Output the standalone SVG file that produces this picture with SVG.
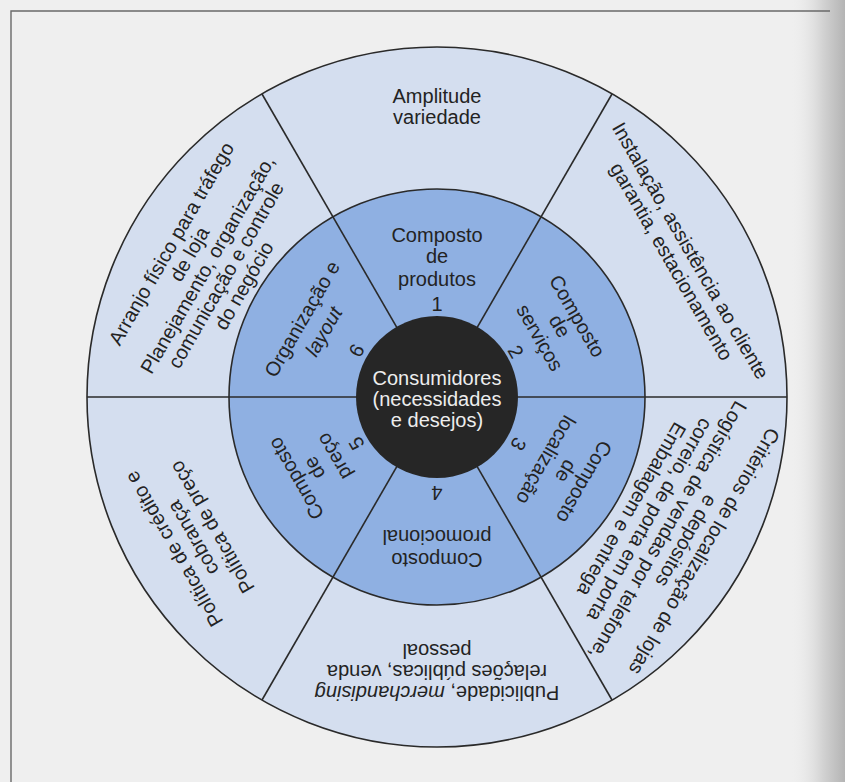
<svg xmlns="http://www.w3.org/2000/svg" width="845" height="782" viewBox="0 0 845 782">
<defs>
<style>
.t{font-family:"Liberation Sans",Arial,sans-serif;font-size:20px;fill:#232323;text-anchor:middle}
.c{font-family:"Liberation Sans",Arial,sans-serif;font-size:20px;fill:#ededed;text-anchor:middle}
.div{stroke:#2a2a2a;stroke-width:1.6;fill:none}
.ring{stroke:#2a2a2a;stroke-width:1.6}
.frame{stroke:#6a6a6a;stroke-width:1.4;fill:none}
</style>
<linearGradient id="edge" x1="0" y1="0" x2="1" y2="0">
<stop offset="0" stop-color="#efefef" stop-opacity="0"/>
<stop offset="0.6" stop-color="#d2d2d2"/>
<stop offset="1" stop-color="#b4b4b4"/>
</linearGradient>
</defs>
<rect width="845" height="782" fill="#efefef"/>
<rect x="790" y="0" width="55" height="782" fill="url(#edge)"/>
<path class="frame" d="M11 782 V11 H830"/>

<g id="outer-ring"><circle class="ring" cx="437" cy="397" r="350" fill="#d4deef"/></g>
<g id="middle-ring"><circle class="ring" cx="437" cy="397" r="208" fill="#8fb0e2"/></g>

<g id="connectors">
<line class="div" x1="87" y1="397" x2="787" y2="397"/>
<line class="div" x1="262" y1="94" x2="612" y2="700"/>
<line class="div" x1="612" y1="94" x2="262" y2="700"/>
</g>

<g id="center">
<circle cx="437" cy="397" r="81" fill="#262626"/>
<text class="c" x="437" y="385">Consumidores</text>
<text class="c" x="437" y="406">(necessidades</text>
<text class="c" x="437" y="427">e desejos)</text>
</g>

<g id="outer-amplitude">
<text class="t" x="437" y="103">Amplitude</text>
<text class="t" x="437" y="124">variedade</text>
</g>
<g id="outer-instalacao" transform="rotate(60 437 397)">
<text class="t" x="437" y="111">Instalação, assistência ao cliente</text>
<text class="t" x="437" y="133">garantia, estacionamento</text>
</g>
<g id="outer-localizacao" transform="rotate(120 437 397)">
<text class="t" x="437" y="95">Critérios de localização de lojas</text>
<text class="t" x="437" y="116">e depósitos</text>
<text class="t" x="437" y="137">Logística de vendas por telefone,</text>
<text class="t" x="437" y="158">correio, de porta em porta</text>
<text class="t" x="437" y="179">Embalagem e entrega</text>
</g>
<g id="outer-publicidade" transform="rotate(180 437 397)">
<text class="t" x="437" y="108">Publicidade, <tspan font-style="italic">merchandising</tspan></text>
<text class="t" x="437" y="129">relações públicas, venda</text>
<text class="t" x="437" y="150">pessoal</text>
</g>
<g id="outer-politica" transform="rotate(240 437 397)">
<text class="t" x="437" y="100">Política de crédito e</text>
<text class="t" x="437" y="122">cobrança</text>
<text class="t" x="437" y="144">Política de preço</text>
</g>
<g id="outer-arranjo" transform="rotate(300 437 397)">
<text class="t" x="437" y="97">Arranjo físico para tráfego</text>
<text class="t" x="437" y="118">de loja</text>
<text class="t" x="437" y="139">Planejamento, organização,</text>
<text class="t" x="437" y="160">comunicação e controle</text>
<text class="t" x="437" y="181">do negócio</text>
</g>

<g id="mid-produtos">
<text class="t" x="437" y="242">Composto</text>
<text class="t" x="437" y="263">de</text>
<text class="t" x="437" y="286">produtos</text>
<text class="t" x="437" y="311">1</text>
</g>
<g id="mid-servicos" transform="rotate(60 437 397)">
<text class="t" x="437" y="242">Composto</text>
<text class="t" x="437" y="262">de</text>
<text class="t" x="437" y="285">serviços</text>
<text class="t" x="437" y="313">2</text>
</g>
<g id="mid-localizacao" transform="rotate(120 437 397)">
<text class="t" x="437" y="234">Composto</text>
<text class="t" x="437" y="255">de</text>
<text class="t" x="437" y="278">localização</text>
<text class="t" x="437" y="310">3</text>
</g>
<g id="mid-promocional" transform="rotate(180 437 397)">
<text class="t" x="437" y="241">Composto</text>
<text class="t" x="437" y="264">promocional</text>
<text class="t" x="437" y="308">4</text>
</g>
<g id="mid-preco" transform="rotate(240 437 397)">
<text class="t" x="437" y="241">Composto</text>
<text class="t" x="437" y="262">de</text>
<text class="t" x="437" y="285">preço</text>
<text class="t" x="437" y="311">5</text>
</g>
<g id="mid-organizacao" transform="rotate(300 437 397)">
<text class="t" x="437" y="248">Organização e</text>
<text class="t" x="437" y="273" font-style="italic">layout</text>
<text class="t" x="437" y="311">6</text>
</g>
</svg>
